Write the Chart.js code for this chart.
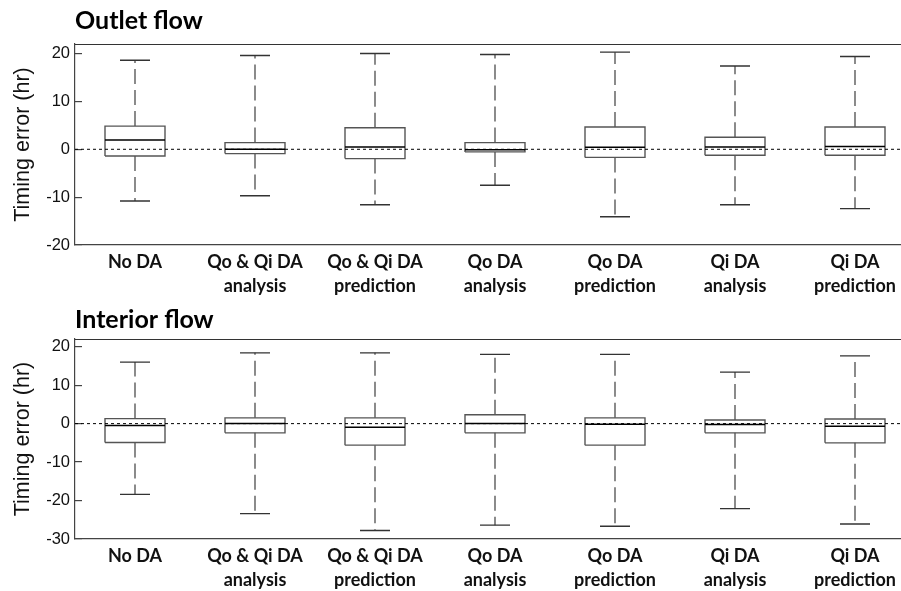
<!DOCTYPE html>
<html>
<head>
<meta charset="utf-8">
<script src="https://cdn.jsdelivr.net/npm/chart.js@4/dist/chart.umd.min.js"></script>
<style>
  html, body { margin: 0; padding: 0; background: #fff; overflow: hidden; }
  canvas { position: absolute; left: 0; }
  #outlet { top: 0; }
  #interior { top: 295px; }
</style>
</head>
<body>
<canvas id="outlet" width="901" height="300"></canvas>
<canvas id="interior" width="901" height="296"></canvas>
<script>
// Experiment categories (two-line axis labels)
const categories = [
  ['No DA'],
  ['Qo & Qi DA', 'analysis'],
  ['Qo & Qi DA', 'prediction'],
  ['Qo DA', 'analysis'],
  ['Qo DA', 'prediction'],
  ['Qi DA', 'analysis'],
  ['Qi DA', 'prediction']
];

// Outlet flow timing error (hr): whisker ends, quartiles, medians
const outletMax    = [18.6, 19.6, 20.0, 19.8, 20.3, 17.4, 19.4];
const outletQ3     = [4.85, 1.4, 4.5, 1.4, 4.65, 2.5, 4.65];
const outletMedian = [1.95, 0.0, 0.5, -0.1, 0.4, 0.5, 0.6];
const outletQ1     = [-1.4, -0.9, -1.95, -0.55, -1.7, -1.25, -1.25];
const outletMin    = [-10.8, -9.7, -11.6, -7.5, -14.1, -11.6, -12.4];

// Interior flow timing error (hr)
const interiorMax    = [16.0, 18.4, 18.4, 18.0, 18.0, 13.4, 17.6];
const interiorQ3     = [1.3, 1.5, 1.5, 2.3, 1.5, 0.95, 1.2];
const interiorMedian = [-0.5, 0.0, -0.95, 0.0, -0.15, -0.2, -0.7];
const interiorQ1     = [-4.9, -2.4, -5.6, -2.4, -5.6, -2.4, -5.0];
const interiorMin    = [-18.4, -23.4, -27.8, -26.4, -26.7, -22.1, -26.1];

// Y-axis tick values for each panel
const outletTicks = [-20, -10, 0, 10, 20];
const interiorTicks = [-30, -20, -10, 0, 10, 20];

const BOX_HALF = 0.25;   // half box width in category units
const CAP_HALF = 0.125;  // half whisker-cap width
const AXIS_W = 75;       // width reserved for the y axis
const X_MIN = -0.5;
const X_MAX = -0.5 + (901 - AXIS_W) / 120;

const GAP = (i) => ({ x: i, y: null });

function boxplotDatasets(max, q3, med, q1, min) {
  const whiskers = [], caps = [], boxes = [], medians = [];
  categories.forEach((_, i) => {
    whiskers.push({ x: i, y: q3[i] }, { x: i, y: max[i] }, GAP(i),
                  { x: i, y: q1[i] }, { x: i, y: min[i] }, GAP(i));
    caps.push({ x: i - CAP_HALF, y: max[i] }, { x: i + CAP_HALF, y: max[i] }, GAP(i),
              { x: i - CAP_HALF, y: min[i] }, { x: i + CAP_HALF, y: min[i] }, GAP(i));
    boxes.push({ x: i - BOX_HALF, y: q1[i] }, { x: i + BOX_HALF, y: q1[i] },
               { x: i + BOX_HALF, y: q3[i] }, { x: i - BOX_HALF, y: q3[i] },
               { x: i - BOX_HALF, y: q1[i] }, GAP(i));
    medians.push({ x: i - BOX_HALF, y: med[i] }, { x: i + BOX_HALF, y: med[i] }, GAP(i));
  });
  const common = { showLine: true, pointRadius: 0, pointHoverRadius: 0, spanGaps: false, fill: false, tension: 0 };
  return [
    { ...common, label: 'zero', data: [{ x: -1, y: 0 }, { x: 8, y: 0 }],
      borderColor: '#000', borderWidth: 1, borderDash: [3, 3], order: 1 },
    { ...common, label: 'median', data: medians, borderColor: '#000', borderWidth: 1.5, order: 2 },
    { ...common, label: 'box', data: boxes, borderColor: '#555', borderWidth: 1.4,
      borderJoinStyle: 'miter', order: 3 },
    { ...common, label: 'cap', data: caps, borderColor: '#333', borderWidth: 1.4, order: 4 },
    { ...common, label: 'whisker', data: whiskers, borderColor: '#5a5a5a', borderWidth: 1.4,
      borderDash: [15, 6], order: 5 }
  ];
}

// Draws the top edge of the plot frame
const frameTop = {
  id: 'frameTop',
  afterDraw(chart) {
    const { ctx, chartArea } = chart;
    ctx.save();
    ctx.strokeStyle = '#333';
    ctx.lineWidth = 1.2;
    ctx.beginPath();
    ctx.moveTo(chartArea.left, chartArea.top + 0.5);
    ctx.lineTo(chartArea.right, chartArea.top + 0.5);
    ctx.stroke();
    ctx.restore();
  }
};

function makePanel(id, title, titlePad, xAxisHeight, yMin, yMax, yTicks, series) {
  return new Chart(document.getElementById(id), {
    type: 'scatter',
    data: { datasets: boxplotDatasets(...series) },
    plugins: [frameTop],
    options: {
      responsive: false,
      animation: false,
      events: [],
      layout: { padding: 0 },
      plugins: {
        legend: { display: false },
        tooltip: { enabled: false },
        title: {
          display: true, text: title, align: 'start', fullSize: false,
          color: '#000',
          font: { family: 'Lato', weight: 'bold', size: 25, lineHeight: 1.2 },
          padding: titlePad
        }
      },
      scales: {
        x: {
          type: 'linear', min: X_MIN, max: X_MAX,
          afterBuildTicks: (s) => { s.ticks = categories.map((_, i) => ({ value: i })); },
          afterFit: (s) => { s.height = xAxisHeight; },
          grid: { display: false, drawTicks: false },
          border: { display: true, color: '#444', width: 1.2 },
          ticks: {
            autoSkip: false, maxRotation: 0, minRotation: 0, padding: 5,
            color: '#111',
            font: { family: 'Lato', weight: 'bold', size: 18, lineHeight: 1.33 },
            callback: (v) => categories[v]
          }
        },
        y: {
          min: yMin, max: yMax,
          afterBuildTicks: (s) => { s.ticks = yTicks.map((v) => ({ value: v })); },
          afterFit: (s) => { s.width = AXIS_W; },
          grid: { drawOnChartArea: false, drawTicks: true, tickLength: -7, color: '#444', lineWidth: 1.2 },
          border: { display: true, color: '#444', width: 1.2 },
          ticks: {
            padding: 12, color: '#111',
            font: { family: 'Liberation Sans', size: 16.5 }
          },
          title: {
            display: true, text: 'Timing error (hr)', color: '#111',
            font: { family: 'Liberation Sans', size: 21.5, lineHeight: 1.2 },
            padding: { top: 10, bottom: 0 }
          }
        }
      }
    }
  });
}

makePanel('outlet', 'Outlet flow', { top: 6, bottom: 8 }, 55, -20, 22, outletTicks,
  [outletMax, outletQ3, outletMedian, outletQ1, outletMin]);
makePanel('interior', 'Interior flow', { top: 10, bottom: 4 }, 52, -30, 22, interiorTicks,
  [interiorMax, interiorQ3, interiorMedian, interiorQ1, interiorMin]);
</script>
</body>
</html>
